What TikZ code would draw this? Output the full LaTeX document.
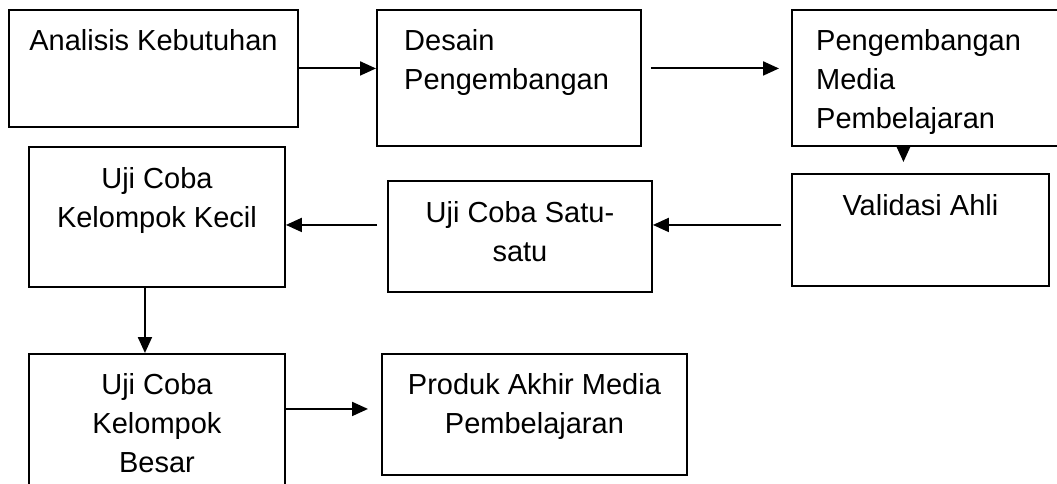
\documentclass[tikz,border=0pt]{standalone}
\usepackage{fontspec}
\setmainfont{Liberation Sans}
\usetikzlibrary{arrows.meta}

\begin{document}
\begin{tikzpicture}[x=1pt, y=-1pt,
  box/.style={draw, line width=1.9pt, inner sep=0pt, anchor=north west},
  txtc/.style={anchor=north, align=center, inner sep=0pt, yshift=-20.5pt,
    font=\fontsize{29}{39}\selectfont},
  txtl/.style={anchor=north west, align=left, inner sep=0pt, yshift=-20.5pt,
    font=\fontsize{29}{39}\selectfont},
  arr/.style={line width=2pt, -{Triangle[length=16pt, width=14pt]}}]
  \useasboundingbox (0,0) rectangle (1057,483);
  % boxes
  \node[box, minimum width=289pt, minimum height=117pt,
    label={[txtc]north:Analisis Kebutuhan}] (analisis) at (8,9) {};
  \node[box, minimum width=264pt, minimum height=136pt,
    label={[txtl, xshift=28pt]north west:{Desain\\Pengembangan}}] (desain) at (376,9) {};
  \node[box, minimum width=300pt, minimum height=136pt,
    label={[txtl, xshift=25pt]north west:{Pengembangan\\Media\\Pembelajaran}}] (pengembangan) at (791,9) {};
  \node[box, minimum width=257pt, minimum height=112pt,
    label={[txtc, yshift=-1pt]north:Validasi Ahli}] (validasi) at (791,173) {};
  \node[box, minimum width=264pt, minimum height=111pt,
    label={[txtc, yshift=-1pt]north:{Uji Coba Satu-\\satu}}] (satu) at (387,180) {};
  \node[box, minimum width=256pt, minimum height=140pt,
    label={[txtc, yshift=-1pt]north:{Uji Coba\\Kelompok Kecil}}] (kecil) at (28,146) {};
  \node[box, minimum width=256pt, minimum height=150pt,
    label={[txtc]north:{Uji Coba\\Kelompok\\Besar}}] (besar) at (28,353) {};
  \node[box, minimum width=305pt, minimum height=121pt,
    label={[txtc]north:{Produk Akhir Media\\Pembelajaran}}] (produk) at (381,353) {};
  % arrows
  \draw[arr] (analisis.east) -- (analisis.east -| desain.west);
  \draw[arr, shorten <=9pt, shorten >=12pt] (desain.east |- analisis.east) -- (pengembangan.west |- analisis.east);
  \draw[arr, shorten >=11pt] ([xshift=-17pt]validasi.north |- pengembangan.south) -- ([xshift=-17pt]validasi.north);
  \draw[arr, shorten <=10pt] ([yshift=5pt]validasi.west) -- ([yshift=5pt]validasi.west -| satu.east);
  \draw[arr, shorten <=10pt] ([yshift=5pt]validasi.west -| satu.west) -- ([yshift=5pt]validasi.west -| kecil.east);
  \draw[arr] ([xshift=-12pt]kecil.south) -- ([xshift=-12pt]besar.north);
  \draw[arr, shorten >=13pt] ([yshift=5.5pt]produk.west -| besar.east) -- ([yshift=5.5pt]produk.west);
\end{tikzpicture}
\end{document}
